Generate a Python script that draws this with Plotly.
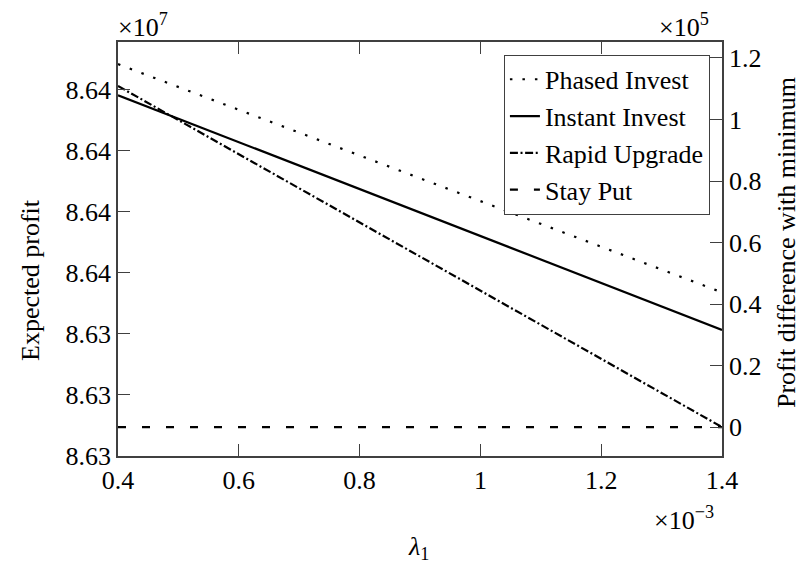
import plotly.graph_objects as go

# lambda_1 values (x 1e-3)
lam = [0.4, 0.6, 0.8, 1.0, 1.2, 1.4]
# profit difference with minimum (x 1e5)
phased = [1.180, 1.032, 0.883, 0.735, 0.586, 0.438]
instant = [1.079, 0.926, 0.774, 0.621, 0.469, 0.316]
rapid = [1.109, 0.887, 0.665, 0.444, 0.222, 0.000]
stay = [0.0, 0.0, 0.0, 0.0, 0.0, 0.0]

x_ticks = [0.4, 0.6, 0.8, 1.0, 1.2, 1.4]
x_ticktext = ["0.4", "0.6", "0.8", "1", "1.2", "1.4"]
left_ticks = [8.6330, 8.6332, 8.6334, 8.6336, 8.6338, 8.6340, 8.6342]
left_ticktext = ["8.63", "8.63", "8.63", "8.64", "8.64", "8.64", "8.64"]
right_ticks = [0, 0.2, 0.4, 0.6, 0.8, 1.0, 1.2]
right_ticktext = ["0", "0.2", "0.4", "0.6", "0.8", "1", "1.2"]

FONT = "Liberation Serif"
AX = "#404040"
W, H = 804, 571
L, R, T, B = 118, 82, 42, 115
FS = 26

fig = go.Figure()
# empty trace so the left (Expected profit) axis is drawn
fig.add_trace(go.Scatter(x=[None], y=[None], yaxis="y", showlegend=False,
                         hoverinfo="skip", mode="lines"))
series = [
    ("Phased Invest", phased, "2.5px,10px"),
    ("Instant Invest", instant, "solid"),
    ("Rapid Upgrade", rapid, "8px,2.6px,2px,2.6px"),
    ("Stay Put", stay, "8px,16px"),
]
for name, ys, dash in series:
    fig.add_trace(go.Scatter(x=lam, y=ys, name=name, mode="lines", yaxis="y2",
                             line=dict(color="black", width=2.2, dash=dash)))

fig.update_layout(
    width=W, height=H,
    margin=dict(l=L, r=R, t=T, b=B),
    paper_bgcolor="white", plot_bgcolor="white",
    font=dict(family=FONT, size=FS, color="black"),
    showlegend=True,
    legend=dict(x=0.98, y=0.969, xanchor="right", yanchor="top",
                bgcolor="white", bordercolor=AX, borderwidth=1,
                font=dict(family=FONT, size=FS), tracegroupgap=0),
    xaxis=dict(range=[0.4, 1.4], tickvals=x_ticks, ticktext=x_ticktext,
               ticks="inside", ticklen=12, tickcolor=AX, showgrid=False,
               zeroline=False, showline=True, linecolor=AX, linewidth=1.5,
               mirror="ticks", tickfont=dict(family=FONT, size=FS)),
    yaxis=dict(range=[8.6330, 8.634357], tickvals=left_ticks, ticktext=left_ticktext,
               ticks="inside", ticklen=12, tickcolor=AX, showgrid=False,
               zeroline=False, showline=True, linecolor=AX, linewidth=1.5,
               tickfont=dict(family=FONT, size=FS)),
    yaxis2=dict(range=[-0.094, 1.252], tickvals=right_ticks, ticktext=right_ticktext,
                overlaying="y", side="right", anchor="x",
                ticks="inside", ticklen=12, tickcolor=AX, showgrid=False,
                zeroline=False, showline=True, linecolor=AX, linewidth=1.5,
                tickfont=dict(family=FONT, size=FS)),
)

def px(x):
    return (x - L) / (W - L - R)

def py(y):
    return (H - B - y) / (H - T - B)

ann = [
    dict(text="×10<sup>7</sup>", x=px(116), y=py(25), xanchor="left", yanchor="middle"),
    dict(text="×10<sup>5</sup>", x=px(684), y=py(25), xanchor="center", yanchor="middle"),
    dict(text="×10<sup>−3</sup>", x=px(684), y=py(518), xanchor="center", yanchor="middle"),
    dict(text="<i>λ</i><sub>1</sub>", x=px(418), y=py(548), xanchor="center", yanchor="middle"),
    dict(text="Expected profit", x=px(30), y=py(280), xanchor="center", yanchor="middle", textangle=-90),
    dict(text="Profit difference with minimum", x=px(786), y=py(243), xanchor="center",
         yanchor="middle", textangle=-90),
]
for a in ann:
    fig.add_annotation(xref="paper", yref="paper", showarrow=False,
                       font=dict(family=FONT, size=FS, color="black"), **a)

fig.write_html("out.html")
